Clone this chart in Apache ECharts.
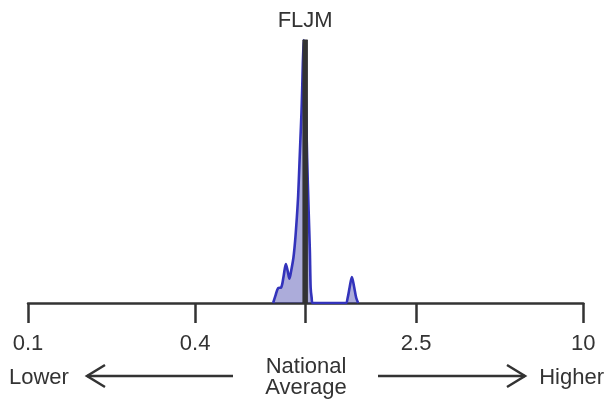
<!DOCTYPE html>
<html>
<head>
<meta charset="utf-8">
<script src="https://cdn.jsdelivr.net/npm/echarts@6/dist/echarts.min.js"></script>
<style>
html,body{margin:0;padding:0;background:#fff;}
#chart{width:607px;height:406px;}
</style>
</head>
<body>
<div id="chart"></div>
<script>
// Ratio values (x, log scale) and relative density (y)
const densityX = [0.7636,0.7796,0.7960,0.8161,0.8332,0.8486,0.8614,0.8743,0.8867,0.9038,0.9166,0.9297,0.9397,0.9499,0.9578,0.9657,0.9714,0.9770,0.9819,0.9852,1.0,1.0125,1.0252,1.0355,1.0424,1.0510,1.0598,1.3935,1.4169,1.4406,1.4672,1.4955,1.5207,1.5461];
const densityY = [0,0.03,0.057,0.059,0.103,0.148,0.122,0.092,0.122,0.173,0.237,0.326,0.408,0.531,0.626,0.721,0.809,0.912,0.973,1.0,0.8,0.55,0.35,0.2,0.058,0.02,0,0,0.02,0.06,0.099,0.06,0.02,0];
const markerName = 'FLJM';
const markerValue = 0.996;
const tickValues = [0.1, 0.4, 1, 2.5, 10];
const labelValues = [0.1, 0.4, 2.5, 10];
const leftText = 'Lower';
const rightText = 'Higher';
const centerText = ['National', 'Average'];

const FONT = 'Liberation Sans, Arial, sans-serif';
const TXT = '#333333';
const chart = echarts.init(document.getElementById('chart'), null, {renderer: 'canvas'});
const peak = Math.max.apply(null, densityY);

chart.setOption({
  animation: false,
  grid: {left: 28, right: 23.7, top: 40, bottom: 103, containLabel: false, outerBoundsMode: 'none'},
  xAxis: {
    type: 'log', logBase: 10, min: 0.1, max: 10,
    axisLine: {show: true, lineStyle: {color: TXT, width: 2.5}},
    axisTick: {show: true, length: 20, lineStyle: {color: TXT, width: 2.5}, customValues: tickValues},
    axisLabel: {show: true, margin: 30, fontSize: 22, color: TXT, fontFamily: FONT,
      customValues: labelValues, formatter: v => String(+v.toPrecision(3))},
    splitLine: {show: false}, minorTick: {show: false}
  },
  yAxis: {type: 'value', min: 0, max: peak, show: false, splitLine: {show: false}},
  series: [
    {
      type: 'line', smooth: 0.3, showSymbol: false, symbol: 'none',
      data: densityX.map((x, i) => [x, densityY[i]]),
      lineStyle: {color: '#3333bb', width: 2.6},
      areaStyle: {color: 'rgba(40,40,160,0.55)', origin: 'start'},
      z: 3
    },
    {
      type: 'line', showSymbol: true, symbol: 'rect', symbolSize: [5, 1],
      itemStyle: {color: '#333333'},
      data: [[markerValue, 0], {value: [markerValue, peak], label: {show: true, position: 'top', distance: 8,
        formatter: markerName, fontSize: 22, color: TXT, fontFamily: FONT}}],
      lineStyle: {color: '#333333', width: 5.5},
      z: 4
    }
  ],
  graphic: [
    {type: 'text', left: 9, top: 367, style: {text: leftText, font: '22px ' + FONT, fill: TXT}},
    {type: 'text', right: 3, top: 367, style: {text: rightText, font: '22px ' + FONT, fill: TXT}},
    {type: 'text', x: 306, y: 367, style: {text: centerText[0], font: '22px ' + FONT, fill: TXT, align: 'center', verticalAlign: 'middle'}},
    {type: 'text', x: 306, y: 388, style: {text: centerText[1], font: '22px ' + FONT, fill: TXT, align: 'center', verticalAlign: 'middle'}},
    {type: 'polyline', shape: {points: [[233, 376], [87, 376]]}, style: {stroke: TXT, lineWidth: 2.5, fill: null}},
    {type: 'polyline', shape: {points: [[105, 365], [87, 376], [105, 387]]}, style: {stroke: TXT, lineWidth: 2.5, fill: null}},
    {type: 'polyline', shape: {points: [[378, 376], [525, 376]]}, style: {stroke: TXT, lineWidth: 2.5, fill: null}},
    {type: 'polyline', shape: {points: [[507, 365], [525, 376], [507, 387]]}, style: {stroke: TXT, lineWidth: 2.5, fill: null}}
  ]
});
</script>
</body>
</html>
